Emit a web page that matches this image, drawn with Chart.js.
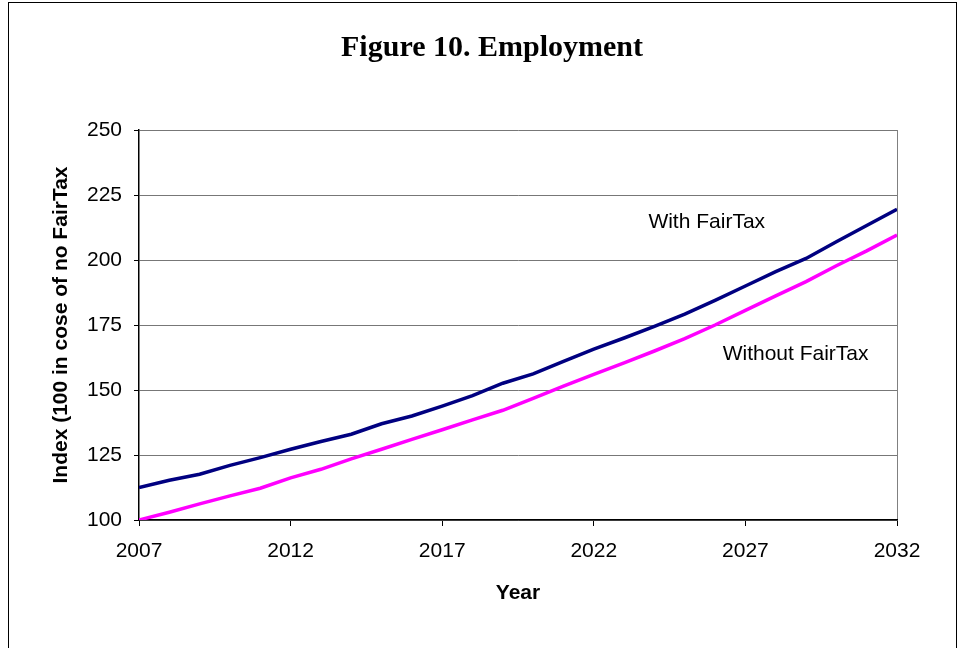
<!DOCTYPE html>
<html>
<head>
<meta charset="utf-8">
<script src="https://cdn.jsdelivr.net/npm/chart.js@4/dist/chart.umd.min.js"></script>
<style>
  html, body { margin: 0; padding: 0; background: #fff; }
  #wrap { width: 964px; height: 648px; position: relative; }
</style>
</head>
<body>
<div id="wrap"><canvas id="employmentChart"></canvas></div>
<script>
const years = [2007, 2008, 2009, 2010, 2011, 2012, 2013, 2014, 2015, 2016, 2017, 2018, 2019,
  2020, 2021, 2022, 2023, 2024, 2025, 2026, 2027, 2028, 2029, 2030, 2031, 2032]
const withFairTax = [112.5, 115.3, 117.6, 121, 124, 127.2, 130.2, 133, 137, 140, 143.8, 147.8, 152.6,
  156.2, 161, 165.7, 170, 174.5, 179.2, 184.5, 190, 195.5, 200.6, 207, 213.3, 219.5]
const withoutFairTax = [100, 103, 106.2, 109.3, 112.2, 116.2, 119.5, 123.5, 127.2, 131, 134.7, 138.5, 142.2,
  146.8, 151.5, 156, 160.4, 165, 169.8, 175, 180.6, 186.2, 191.7, 197.8, 203.5, 209.6]
const yTicks = [100, 125, 150, 175, 200, 225, 250]
const xTicks = [2007, 2012, 2017, 2022, 2027, 2032]

// text labels placed next to the lines (in data units)
const lineNotes = [
  { text: 'With FairTax', x: 2023.8, y: 214.4 },
  { text: 'Without FairTax', x: 2026.25, y: 163.8 }
]

const pageFrame = {
  id: 'pageFrame',
  beforeDraw(chart) {
    const c = chart.ctx
    c.save()
    c.fillStyle = '#fff'
    c.fillRect(0, 0, chart.width, chart.height)
    c.strokeStyle = '#000'
    c.lineWidth = 1
    c.strokeRect(8.5, 2.5, 948, 700)
    c.restore()
  }
}

const notesPlugin = {
  id: 'lineNotes',
  afterDatasetsDraw(chart) {
    const c = chart.ctx
    const xs = chart.scales.x
    const ys = chart.scales.y
    c.save()
    c.font = '21px "Liberation Sans", Arial, sans-serif'
    c.fillStyle = '#000'
    c.textAlign = 'left'
    c.textBaseline = 'middle'
    lineNotes.forEach((n) => {
      c.fillText(n.text, xs.getPixelForValue(n.x), ys.getPixelForValue(n.y))
    })
    c.restore()
  }
}

const ctx = document.getElementById('employmentChart')

new Chart(ctx, {
  type: 'line',
  data: {
    datasets: [
      {
        label: 'With FairTax',
        data: years.map((y, i) => ({ x: y, y: withFairTax[i] })),
        borderColor: '#000080',
        borderWidth: 3.5,
        pointRadius: 0,
        tension: 0
      },
      {
        label: 'Without FairTax',
        data: years.map((y, i) => ({ x: y, y: withoutFairTax[i] })),
        borderColor: '#ff00ff',
        borderWidth: 3.5,
        pointRadius: 0,
        tension: 0
      }
    ]
  },
  options: {
    responsive: true,
    maintainAspectRatio: false,
    animation: false,
    layout: {
      padding: { left: 20, right: 0, top: 0, bottom: 0 }
    },
    plugins: {
      legend: { display: false },
      tooltip: { enabled: false },
      title: {
        display: true,
        text: 'Figure 10. Employment',
        color: '#000',
        font: { family: '"Liberation Serif", "Times New Roman", serif', size: 30, weight: 'bold' },
        padding: { top: 30, bottom: 64 }
      }
    },
    scales: {
      x: {
        type: 'linear',
        min: 2007,
        max: 2032,
        afterFit: (scale) => { scale.height = 128 },
        afterBuildTicks: (scale) => { scale.ticks = xTicks.map((v) => ({ value: v })) },
        ticks: {
          color: '#000',
          padding: 13,
          maxRotation: 0,
          font: { family: '"Liberation Sans", Arial, sans-serif', size: 21 },
          callback: (value) => String(value)
        },
        grid: {
          color: (c) => (c.tick && c.tick.value === 2032 ? '#808080' : 'rgba(0,0,0,0)'),
          tickColor: '#000',
          tickLength: 6
        },
        border: { color: '#000', width: 1.5 },
        title: {
          display: true,
          text: 'Year',
          color: '#000',
          font: { family: '"Liberation Sans", Arial, sans-serif', size: 21, weight: 'bold' },
          padding: { top: 42.4, bottom: 42.4 }
        }
      },
      y: {
        min: 100,
        max: 250,
        afterFit: (scale) => { scale.width = 119 },
        afterBuildTicks: (scale) => { scale.ticks = yTicks.map((v) => ({ value: v })) },
        ticks: {
          color: '#000',
          padding: 12,
          font: { family: '"Liberation Sans", Arial, sans-serif', size: 21 }
        },
        grid: {
          color: '#777',
          tickColor: '#000',
          tickLength: 5
        },
        border: { color: '#000', width: 1.5 },
        title: {
          display: true,
          text: 'Index (100 in cose of no FairTax',
          color: '#000',
          font: { family: '"Liberation Sans", Arial, sans-serif', size: 21, weight: 'bold' },
          padding: { top: 28.4, bottom: 28.4 }
        }
      },
      // empty right-hand axis that only reserves the margin, so the title centres on the page
      yRight: {
        position: 'right',
        min: 100,
        max: 250,
        afterFit: (scale) => { scale.width = 67 },
        ticks: { display: false },
        grid: { display: false, drawTicks: false },
        border: { display: false }
      }
    }
  },
  plugins: [pageFrame, notesPlugin]
})
</script>
</body>
</html>
